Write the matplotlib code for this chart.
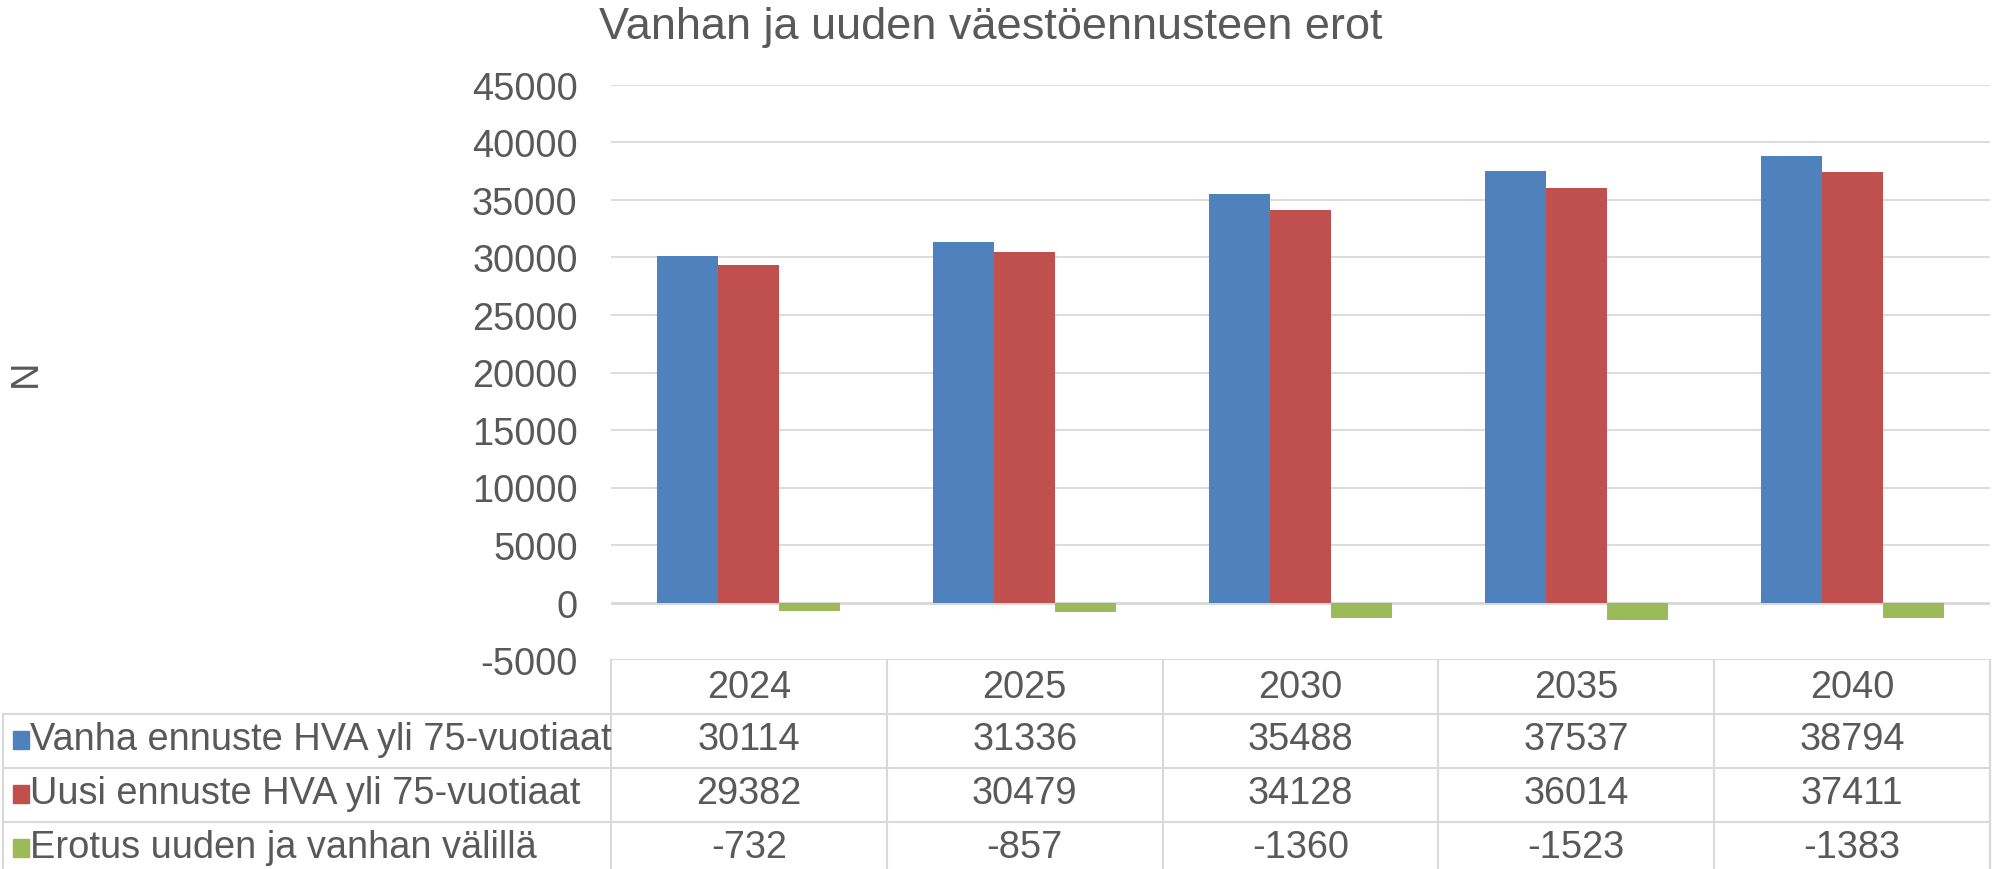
import matplotlib
matplotlib.use("Agg")
import matplotlib.pyplot as plt
import matplotlib.transforms as mtransforms
from matplotlib.lines import Line2D
from matplotlib.patches import Rectangle
import numpy as np

plt.rcParams["font.family"] = ["Liberation Sans", "DejaVu Sans"]
plt.rcParams["axes.unicode_minus"] = False

years = ["2024", "2025", "2030", "2035", "2040"]
series_names = [
    "Vanha ennuste HVA yli 75-vuotiaat",
    "Uusi ennuste HVA yli 75-vuotiaat",
    "Erotus uuden ja vanhan välillä",
]
vanha = [30114, 31336, 35488, 37537, 38794]
uusi = [29382, 30479, 34128, 36014, 37411]
erotus = [-732, -857, -1360, -1523, -1383]
colors = ["#4F81BD", "#C0504D", "#9BBB59"]

TEXT = "#595959"
GRID = "#D9D9D9"
FS = 27.4

W, H = 1992, 870
fig = plt.figure(figsize=(W / 100, H / 100), dpi=100)

# plot area in pixel terms (left, right, top, bottom)
left_px, right_px, top_px, bot_px = 611, 1990, 86, 661
ax = fig.add_axes([left_px / W, 1 - bot_px / H, (right_px - left_px) / W, (bot_px - top_px) / H])

x = np.arange(len(years))
bw = 0.221
for k, vals in enumerate([vanha, uusi, erotus]):
    ax.bar(x + (k - 1) * bw, vals, width=bw, color=colors[k], zorder=3)

ax.set_xlim(-0.5, len(years) - 0.5)
ax.set_ylim(-5000, 45000)
ax.set_yticks(np.arange(-5000, 45001, 5000))
ax.set_xticks([])
ax.tick_params(axis="y", length=0, pad=24, labelsize=FS, labelcolor=TEXT)
for s in ax.spines.values():
    s.set_visible(False)
ax.yaxis.grid(True, color=GRID, linewidth=1.3, zorder=0)
ax.axhline(0, color=GRID, linewidth=2.2, zorder=2)

# data table below the plot
row_h = 54 / (bot_px - top_px)   # row height in axes fraction
xt = ax.get_xaxis_transform()
ft = mtransforms.blended_transform_factory(fig.transFigure, ax.transAxes)
table_left = 3 / W
table_right = right_px / W
n_rows = 4
bottom_y = -n_rows * row_h

for c in np.arange(-0.5, len(years), 1.0):
    ax.add_line(Line2D([c, c], [0, bottom_y], transform=xt, color=GRID, lw=1.5, clip_on=False))
fig.add_artist(Line2D([table_right, table_right], [0, bottom_y], transform=ft, color=GRID, lw=1.5))
fig.add_artist(Line2D([table_left, table_left], [-row_h, bottom_y], transform=ft, color=GRID, lw=1.5))
for r in range(1, n_rows):
    fig.add_artist(Line2D([table_left, table_right], [-r * row_h, -r * row_h], transform=ft, color=GRID, lw=1.5))

for i, yr in enumerate(years):
    ax.text(i, -0.5 * row_h, yr, transform=xt, ha="center", va="center", fontsize=FS, color=TEXT)
for r, vals in enumerate([vanha, uusi, erotus]):
    yc = -(r + 1.5) * row_h
    for i, v in enumerate(vals):
        ax.text(i, yc + 0.004, str(v), transform=xt, ha="center", va="center", fontsize=FS, color=TEXT)
    fig.text(30 / W, 0, series_names[r], transform=ft, fontsize=FS, color=TEXT,
             ha="left", va="center").set_y(yc + 0.004)
    # legend key square
    yc_fig = (1 - bot_px / H) + yc * (bot_px - top_px) / H
    fig.add_artist(Rectangle((13 / W, yc_fig - 8 / H), 16 / W, 18 / H,
                             transform=fig.transFigure, color=colors[r]))

fig.text(991 / W, 1 - 39 / H, "Vanhan ja uuden väestöennusteen erot",
         ha="center", va="baseline", fontsize=32.5, color=TEXT)
fig.text(26 / W, 1 - 373 / H, "N", rotation=90, ha="center", va="center",
         fontsize=FS, color=TEXT)

fig.savefig("out.png", dpi=100)
